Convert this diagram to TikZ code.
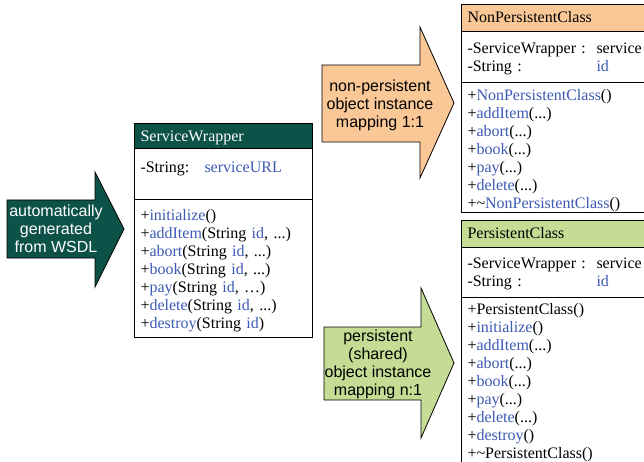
\documentclass[tikz,border=0pt]{standalone}
\usepackage{fontspec}
\setmainfont{Liberation Serif}
\newfontfamily\arrowfont{Liberation Sans}
\usetikzlibrary{positioning}
\definecolor{wsdlgreen}{RGB}{12,82,72}
\definecolor{peach}{RGB}{250,200,150}
\definecolor{leaf}{RGB}{196,220,148}
\definecolor{opblue}{RGB}{60,90,180}
\newcommand{\bl}[1]{\textcolor{opblue}{#1}}

\begin{document}
\begin{tikzpicture}[x=1pt,y=-1pt,line width=0.8pt,font=\fontsize{16}{18}\selectfont]
  \tikzstyle{head}=[draw,rectangle,outer sep=0pt,inner xsep=6.5pt,inner ysep=0pt,align=left,anchor=north west]
  \tikzstyle{part}=[draw,rectangle,outer sep=0pt,inner xsep=6.5pt,inner ysep=0pt,align=left,fill=white]
  \tikzstyle{arrowtext}=[font=\arrowfont\fontsize{16}{18}\selectfont,align=center,inner sep=0pt]

  \clip (0,0) rectangle (644,462);
  \fill[white] (0,0) rectangle (644,462);

  % generated from WSDL
  \filldraw[fill=wsdlgreen] (7,200) -- (95,200) -- (95,172) -- (124,229) -- (95,287) -- (95,258) -- (7,258) -- cycle;
  \node[arrowtext,text=white] (wsdl) at (56,229) {automatically\\generated\\from WSDL};

  \node[head,fill=wsdlgreen,text=white,text width=165pt,minimum height=25pt] (swHead) at (134,123)
    {\rule{0pt}{16pt}ServiceWrapper};
  \node[part,text width=165pt,minimum height=51pt,below=0pt of swHead] (swAttr)
    {\rule{0pt}{21pt}\makebox[64pt][l]{-String:}\bl{serviceURL}\\\strut};
  \node[part,text width=165pt,minimum height=138pt,below=0pt of swAttr] (swOps)
    {\rule{0pt}{17pt}+\bl{initialize}()\\
     +\bl{addItem}(String \bl{id}, ...)\\
     +\bl{abort}(String \bl{id}, ...)\\
     +\bl{book}(String \bl{id}, ...)\\
     +\bl{pay}(String \bl{id}, …)\\
     +\bl{delete}(String \bl{id}, ...)\\
     +\bl{destroy}(String \bl{id})};

  % 1:1 mapping
  \filldraw[fill=peach] (322,65) -- (420,65) -- (420,27) -- (454,103) -- (420,178) -- (420,142) -- (322,142) -- cycle;
  \node[arrowtext] (oneone) at (380,105) {non-persistent\\object instance\\mapping 1:1};

  \node[head,fill=peach,text width=187pt,minimum height=27pt] (npHead) at (461,4) {NonPersistentClass};
  \node[part,text width=187pt,minimum height=51pt,below=0pt of npHead] (npAttr)
    {\rule{0pt}{16pt}\makebox[129pt][l]{-ServiceWrapper :}service\\
     \makebox[129pt][l]{-String :}\bl{id}};
  \node[part,text width=187pt,minimum height=130pt,below=0pt of npAttr] (npOps)
    {\rule{0pt}{19pt}+\bl{NonPersistentClass}()\\
     +\bl{addItem}(...)\\
     +\bl{abort}(...)\\
     +\bl{book}(...)\\
     +\bl{pay}(...)\\
     +\bl{delete}(...)\\
     +\textasciitilde\bl{NonPersistentClass}()};

  % n:1 mapping
  \filldraw[fill=leaf] (324,327) -- (421,327) -- (421,288) -- (454,363) -- (421,438) -- (421,400) -- (324,400) -- cycle;
  \node[arrowtext] (none) at (378,364) {persistent\\(shared)\\object instance\\mapping n:1};

  \node[head,fill=leaf,text width=187pt,minimum height=27pt] (pHead) at (461,220) {PersistentClass};
  \node[part,text width=187pt,minimum height=50pt,below=0pt of pHead] (pAttr)
    {\rule{0pt}{15pt}\makebox[129pt][l]{-ServiceWrapper :}service\\
     \makebox[129pt][l]{-String :}\bl{id}};
  \node[part,text width=187pt,minimum height=172pt,below=0pt of pAttr] (pOps)
    {+PersistentClass()\\
     +\bl{initialize}()\\
     +\bl{addItem}(...)\\
     +\bl{abort}(...)\\
     +\bl{book}(...)\\
     +\bl{pay}(...)\\
     +\bl{delete}(...)\\
     +\bl{destroy}()\\
     +\textasciitilde PersistentClass()};
\end{tikzpicture}
\end{document}
